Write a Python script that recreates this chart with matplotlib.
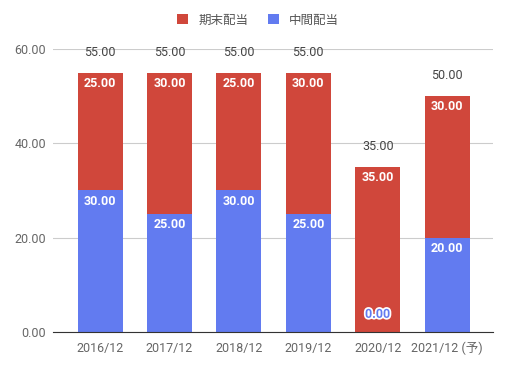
import matplotlib
matplotlib.use("Agg")
import matplotlib.pyplot as plt
import matplotlib.patheffects as pe
import numpy as np

plt.rcParams['font.family'] = ['Roboto', 'Noto Sans CJK JP']

categories = ["2016/12", "2017/12", "2018/12", "2019/12", "2020/12", "2021/12 (予)"]
interim = [30.0, 25.0, 30.0, 25.0, 0.0, 20.0]     # 中間配当
year_end = [25.0, 30.0, 25.0, 30.0, 35.0, 30.0]   # 期末配当
totals = [55.0, 55.0, 55.0, 55.0, 35.0, 50.0]

RED = "#d0473b"
BLUE = "#627bf0"

fig = plt.figure(figsize=(5.11, 3.68), dpi=100)
ax = fig.add_axes([0.104, 0.098, 0.861, 0.769])

x = np.arange(len(categories))
w = 0.65
ax.bar(x, interim, w, color=BLUE, zorder=2, label="中間配当")
ax.bar(x, year_end, w, bottom=interim, color=RED, zorder=2, label="期末配当")

ax.set_ylim(0, 60)
ax.set_xlim(-0.677, len(categories) - 1 + 0.663)
ax.set_yticks([0, 20, 40, 60])
ax.set_yticklabels([f"{v:.2f}" for v in [0, 20, 40, 60]])
ax.set_xticks(x)
ax.set_xticklabels(categories)
ax.tick_params(length=0, labelsize=9, colors="#666666", pad=7)
ax.tick_params(axis="y", pad=5)
ax.grid(axis="y", color="#cccccc", linewidth=0.8, zorder=0)
for s in ["top", "right", "left"]:
    ax.spines[s].set_visible(False)
ax.spines["bottom"].set_color("#333333")
ax.spines["bottom"].set_zorder(3)

for i in range(len(categories)):
    # total above the bar
    ax.annotate(f"{totals[i]:.2f}", (x[i], totals[i]), xytext=(0, 10),
                textcoords="offset points", ha="center", va="bottom",
                fontsize=9, color="#444444")
    # year-end segment label
    ax.annotate(f"{year_end[i]:.2f}", (x[i], interim[i] + year_end[i]), xytext=(0, -3),
                textcoords="offset points", ha="center", va="top",
                fontsize=9, color="white", fontweight="bold")
    # interim segment label
    if interim[i] > 0:
        ax.annotate(f"{interim[i]:.2f}", (x[i], interim[i]), xytext=(0, -3),
                    textcoords="offset points", ha="center", va="top",
                    fontsize=9, color="white", fontweight="bold")
    else:
        ax.annotate(f"{interim[i]:.2f}", (x[i], 0), xytext=(0, 8),
                    textcoords="offset points", ha="center", va="bottom",
                    fontsize=9, color=BLUE, fontweight="bold",
                    path_effects=[pe.withStroke(linewidth=2.5, foreground="white")])

handles, labels = ax.get_legend_handles_labels()
fig.legend(handles[::-1], labels[::-1], loc="center", bbox_to_anchor=(0.505, 0.945),
           ncol=2, frameon=False, fontsize=9, handlelength=0.85, handleheight=0.85,
           columnspacing=1.6, handletextpad=0.8, labelcolor="#555555")

fig.savefig("out.png", dpi=100)
